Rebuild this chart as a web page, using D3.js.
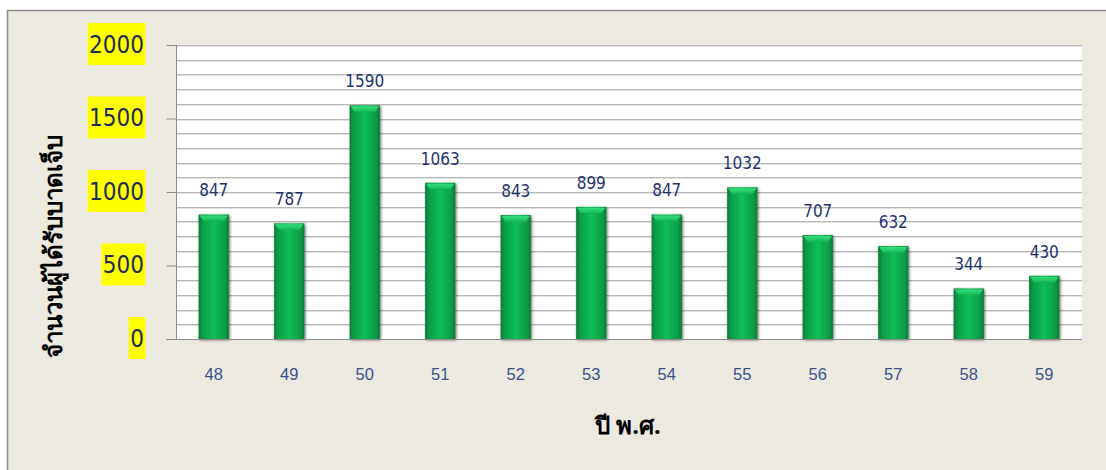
<!DOCTYPE html>
<html><head><meta charset="utf-8">
<script src="https://cdn.jsdelivr.net/npm/d3@7"></script>
<style>
html,body{margin:0;padding:0;background:#fff;}
svg{display:block;}
</style></head>
<body>
<svg id="c" width="1106" height="470"></svg>
<script>
const years = ["48","49","50","51","52","53","54","55","56","57","58","59"];
const injured = [847,787,1590,1063,843,899,847,1032,707,632,344,430];
const yTicks = [0,500,1000,1500,2000];
const yTitle = "จำนวนผู้ได้รับบาดเจ็บ";
const xTitle = "ปี พ.ศ.";

const svg = d3.select("#c");
const W = 1106, H = 470;
const plot = {l:176, r:1082, t:45, b:339};

// chart frame
svg.append("rect").attr("x",7.5).attr("y",10.5).attr("width",W).attr("height",H)
  .attr("fill","#ECE9E0").attr("stroke","#8E8E8E").attr("stroke-width",1.5);

const defs = svg.append("defs");
const g1 = defs.append("linearGradient").attr("id","barG").attr("x1","0").attr("x2","1").attr("y1","0").attr("y2","0");
[[0,"#0c7a36"],[0.12,"#0f9a45"],[0.5,"#0ec056"],[0.88,"#0f9a45"],[1,"#0c7a36"]]
  .forEach(([o,c])=>g1.append("stop").attr("offset",o).attr("stop-color",c));
const g2 = defs.append("linearGradient").attr("id","capG").attr("x1","0").attr("x2","0").attr("y1","0").attr("y2","1");
[[0,"#35dc7c"],[0.6,"#22c865"],[1,"#0fae4e"]]
  .forEach(([o,c])=>g2.append("stop").attr("offset",o).attr("stop-color",c));
const f = defs.append("filter").attr("id","sh").attr("x","-30%").attr("y","-10%").attr("width","160%").attr("height","120%");
f.append("feGaussianBlur").attr("in","SourceAlpha").attr("stdDeviation",1.8).attr("result","b");
f.append("feOffset").attr("in","b").attr("dx",0.5).attr("dy",0.5).attr("result","o");
f.append("feComponentTransfer").attr("in","o").attr("result","s").append("feFuncA").attr("type","linear").attr("slope",0.6);
const fm = f.append("feMerge");
fm.append("feMergeNode").attr("in","s");
fm.append("feMergeNode").attr("in","SourceGraphic");

// plot area
svg.append("rect").attr("x",plot.l).attr("y",plot.t).attr("width",plot.r-plot.l).attr("height",plot.b-plot.t).attr("fill","#fff");

const x = d3.scaleBand().domain(years).range([plot.l,plot.r]).paddingInner(0.6).paddingOuter(0.3);
const y = d3.scaleLinear().domain([0,2000]).range([plot.b,plot.t]);

// gridlines (every 100)
const gridVals = d3.range(100,2001,100);
svg.append("g").selectAll("line.s").data(gridVals).join("line")
  .attr("x1",plot.l).attr("x2",plot.r).attr("y1",d=>Math.round(y(d))+1.5).attr("y2",d=>Math.round(y(d))+1.5)
  .attr("stroke","#E2E2E2").attr("stroke-width",1);
svg.append("g").selectAll("line.g").data(gridVals).join("line")
  .attr("x1",plot.l).attr("x2",plot.r).attr("y1",d=>Math.round(y(d))+0.5).attr("y2",d=>Math.round(y(d))+0.5)
  .attr("stroke","#B8B8B8").attr("stroke-width",1);

// bars
const bars = svg.append("g");
years.forEach((yr,i)=>{
  const v = injured[i];
  const bx = x(yr), bw = x.bandwidth(), top = y(v);
  const gb = bars.append("g").attr("filter","url(#sh)");
  gb.append("rect").attr("x",bx).attr("y",top).attr("width",bw).attr("height",plot.b-top).attr("fill","url(#barG)");
  gb.append("path").attr("d",`M${bx+1},${top+1}L${bx+bw-1},${top+1}L${bx+bw-5},${top+7}L${bx+5},${top+7}Z`).attr("fill","url(#capG)");
});

// axes
const yAxis = d3.axisLeft(y).tickValues(yTicks).tickSize(10).tickFormat("");
const ya = svg.append("g").attr("transform",`translate(${plot.l+0.5},0)`).call(yAxis);
ya.selectAll("path,line").attr("stroke","#8C8C8C");
ya.select(".domain").attr("d",`M0,${plot.t}V${plot.b}`);

svg.append("line").attr("x1",166).attr("x2",plot.r).attr("y1",plot.b+0.5).attr("y2",plot.b+0.5).attr("stroke","#8C8C8C");

// y tick labels with yellow highlight
const yl = svg.append("g");
yTicks.forEach(t=>{
  const cy = y(t) - 1;
  const tx = yl.append("text").attr("x",144).attr("y",cy).attr("text-anchor","end").attr("dy","0.36em")
    .attr("font-family","'DejaVu Sans Condensed','DejaVu Sans',sans-serif").attr("font-stretch","condensed")
    .attr("font-size",24).attr("fill","#1F2D5A").text(t);
  const bb = tx.node().getBBox();
  yl.insert("rect","text").attr("x",bb.x-1.5).attr("y",cy-21).attr("width",bb.width+3).attr("height",42).attr("fill","#FFFF00");
});

// x labels
svg.append("g").selectAll("text").data(years).join("text")
  .attr("x",d=>x(d)+x.bandwidth()/2).attr("y",380).attr("text-anchor","middle")
  .attr("font-family","'Liberation Sans',Arial,sans-serif").attr("font-size",16.5).attr("fill","#3A5288").text(d=>d);

// data labels
svg.append("g").selectAll("text").data(years).join("text")
  .attr("x",d=>x(d)+x.bandwidth()/2).attr("y",(d,i)=>y(injured[i])-18).attr("text-anchor","middle")
  .attr("font-family","'DejaVu Sans Condensed','DejaVu Sans',sans-serif").attr("font-stretch","condensed")
  .attr("font-size",17).attr("fill","#1F3370").text((d,i)=>injured[i]);

// titles
svg.append("text").attr("transform","translate(62,246) rotate(-90)").attr("text-anchor","middle")
  .attr("font-family","'Noto Sans','DejaVu Sans',sans-serif").attr("font-weight","bold").attr("font-size",24).attr("fill","#000").text(yTitle);
svg.append("text").attr("x",628).attr("y",434).attr("text-anchor","middle")
  .attr("font-family","'Noto Sans','DejaVu Sans',sans-serif").attr("font-weight","bold").attr("font-size",24).attr("fill","#000").text(xTitle);
</script>
</body></html>
